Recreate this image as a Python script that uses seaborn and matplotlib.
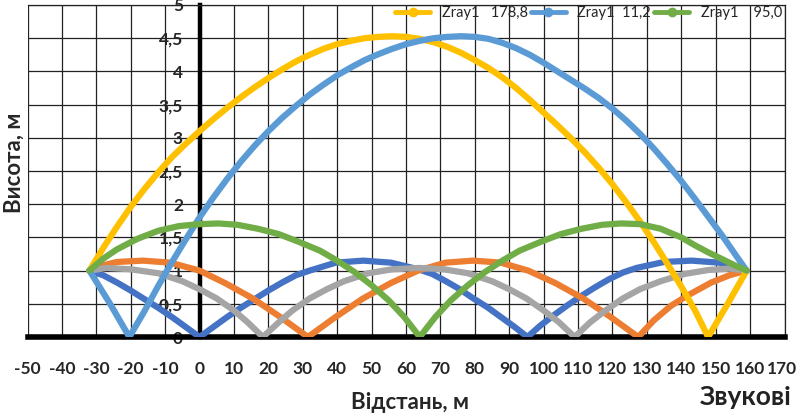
import numpy as np
import pandas as pd
import matplotlib
matplotlib.use("Agg")
import matplotlib.pyplot as plt
import matplotlib.transforms as mtransforms
import seaborn as sns
from matplotlib.lines import Line2D

# ---------------- data ----------------
yellow_x = [-32, -28, -24, -20, -16, -12, -8, -4, 0, 4, 8, 12, 16, 20, 24, 28, 32, 36, 40, 44, 48,
            52, 56, 60, 64, 68, 72, 76, 80, 84, 88, 92, 96, 100, 104, 108, 112, 116, 120, 124,
            128, 132, 136, 140, 144, 147.8, 153.5, 159]
yellow_y = [1.0, 1.34, 1.66, 1.96, 2.23, 2.48, 2.71, 2.91, 3.1, 3.28, 3.45, 3.61, 3.76, 3.9, 4.03, 4.15, 4.25, 4.34, 4.41, 4.46, 4.5,
            4.52, 4.53, 4.52, 4.49, 4.44, 4.37, 4.28, 4.17, 4.05, 3.91, 3.75, 3.57, 3.38, 3.19, 2.99, 2.78, 2.55, 2.3, 2.03,
            1.74, 1.43, 1.1, 0.76, 0.4, 0.0, 0.5, 1.0]

lblue_x = [-32, -26, -20.4, -16, -12, -8, -4, 0, 4, 8, 12, 16, 20, 24, 28, 32, 36, 40, 44, 48, 52, 56,
           60, 64, 68, 72, 76, 80, 84, 88, 92, 96, 100, 104, 108, 112, 116, 120, 124, 128, 132, 136,
           140, 144, 148, 152, 156, 159]
lblue_y = [1.0, 0.5, 0.0, 0.39, 0.77, 1.13, 1.47, 1.8, 2.1, 2.38, 2.64, 2.88, 3.1, 3.3, 3.48, 3.65, 3.8, 3.94, 4.06, 4.17, 4.26, 4.34,
           4.41, 4.46, 4.5, 4.52, 4.53, 4.52, 4.49, 4.43, 4.35, 4.25, 4.13, 4.0, 3.87, 3.74, 3.6, 3.44, 3.26, 3.06, 2.84, 2.6,
           2.35, 2.08, 1.8, 1.52, 1.22, 1.0]

green_x = [-32, -28, -24, -18, -12, -6, 0, 5.5, 11, 17, 23, 29, 35, 40, 45, 50, 55, 59.5, 64,
           68.5, 73, 78, 83, 88, 93, 99, 105, 111, 117, 122.5, 128, 134, 140, 144, 148, 152, 155.5, 159]
green_y = [1.0, 1.18, 1.32, 1.48, 1.6, 1.67, 1.7, 1.71, 1.69, 1.63, 1.55, 1.43, 1.3, 1.15, 0.98, 0.78, 0.55, 0.3, 0.0,
           0.3, 0.55, 0.78, 0.98, 1.15, 1.3, 1.43, 1.55, 1.63, 1.69, 1.71, 1.7, 1.63, 1.5, 1.38, 1.27, 1.17, 1.08, 1.0]

dblue_x = [-32, -28, -24, -20, -16, -12, -8, -4, 0, 4, 8, 12, 16, 20, 24, 28, 32, 39.6, 47.6, 55.6,
           63.6, 67.6, 71.6, 75.6, 79.6, 83.6, 87.6, 91.6, 95.3, 99, 103, 107, 111, 115, 119, 123,
           127, 135, 143, 151, 159]
dblue_y = [1.0, 0.93, 0.82, 0.7, 0.57, 0.44, 0.3, 0.15, 0.0, 0.15, 0.3, 0.44, 0.57, 0.7, 0.82, 0.93, 1.0, 1.12, 1.15, 1.12,
           1.02, 0.95, 0.84, 0.72, 0.58, 0.45, 0.3, 0.15, 0.0, 0.17, 0.33, 0.48, 0.62, 0.75, 0.87, 0.97,
           1.04, 1.13, 1.15, 1.12, 1.0]

orange_x = [-32, -28, -24, -16.5, -8.5, 0, 7.5, 15.5, 23.5, 31.5, 39.5, 47.5, 55.5, 63.5, 71.5, 79.5,
            87.5, 95.5, 103.5, 111.5, 119.5, 127.5, 132, 137, 142, 148.7, 154, 159]
orange_y = [1.0, 1.08, 1.13, 1.15, 1.12, 1.0, 0.81, 0.58, 0.3, 0.0, 0.3, 0.58, 0.81, 1.0, 1.12, 1.15,
            1.12, 1.0, 0.81, 0.58, 0.3, 0.0, 0.25, 0.47, 0.63, 0.82, 0.93, 1.0]

gray_x = [-32, -27, -20, -12, -5, 0, 5, 10, 14, 18.4, 23, 27, 32, 37, 42, 49, 56, 63.7, 71, 78, 85,
          90, 95, 100, 104.5, 109, 113.5, 118, 123, 128, 134, 141, 148, 154, 159]
gray_y = [1.0, 1.04, 1.02, 0.96, 0.84, 0.72, 0.58, 0.4, 0.22, 0.0, 0.22, 0.4, 0.58, 0.72, 0.84, 0.96, 1.02, 1.04, 1.02, 0.96, 0.84,
          0.72, 0.58, 0.4, 0.22, 0.0, 0.22, 0.4, 0.58, 0.72, 0.84, 0.95, 1.01, 1.03, 1.0]

series_names = ["dblue", "orange", "gray", "yellow", "lblue", "green"]
series_colors = {"yellow": "#FFC000", "lblue": "#5B9BD5", "green": "#70AD47",
                 "dblue": "#4472C4", "orange": "#ED7D31", "gray": "#A5A5A5"}
legend_labels = ["Zray1   178,8", "Zray1  11,2", "Zray1    95,0"]
legend_series = ["yellow", "lblue", "green"]

x_ticks = list(range(-50, 171, 10))
y_ticks = [0, 0.5, 1, 1.5, 2, 2.5, 3, 3.5, 4, 4.5, 5]
y_tick_labels = ["0", "0,5", "1", "1,5", "2", "2,5", "3", "3,5", "4", "4,5", "5"]

# ---------------- build table ----------------
data = {"dblue": (dblue_x, dblue_y), "orange": (orange_x, orange_y), "gray": (gray_x, gray_y),
        "yellow": (yellow_x, yellow_y), "lblue": (lblue_x, lblue_y), "green": (green_x, green_y)}
frames = []
for name in series_names:
    xs, ys = data[name]
    frames.append(pd.DataFrame({"x": xs, "y": ys, "series": name}))
df = pd.concat(frames, ignore_index=True)

# ---------------- plot ----------------
sns.set_style("white")
plt.rcParams["font.family"] = ["Lato", "Noto Sans", "DejaVu Sans"]

fig = plt.figure(figsize=(7.98, 4.19), dpi=100)
ax = fig.add_axes([27.5 / 798, 82 / 419, (784.5 - 27.5) / 798, 332 / 419])

for name in series_names:
    sub = df[df["series"] == name]
    sns.lineplot(data=sub, x="x", y="y", color=series_colors[name], lw=4.5,
                 estimator=None, sort=False, ax=ax, legend=False, zorder=3,
                 solid_capstyle="round", solid_joinstyle="round")

ax.set_xlim(-50, 170)
ax.set_ylim(0, 5)
ax.set_xticks(x_ticks)
ax.set_xticklabels([str(t) for t in x_ticks])
ax.set_yticks(y_ticks)
ax.set_yticklabels(y_tick_labels)
ax.grid(True, color="#222222", lw=0.9)
ax.set_axisbelow(True)
ax.set_xlabel("")
ax.set_ylabel("")

for sp in ["top", "right"]:
    ax.spines[sp].set_color("#222222")
    ax.spines[sp].set_linewidth(0.9)
ax.spines["left"].set_position(("data", 0))
ax.spines["left"].set_linewidth(3.2)
ax.spines["left"].set_color("black")
ax.spines["left"].set_zorder(2.5)
ax.spines["bottom"].set_linewidth(4)
ax.spines["bottom"].set_color("black")
ax.axvline(-50, color="#222222", lw=1.4, zorder=1)

ax.tick_params(axis="x", length=0, pad=17, labelsize=12.5)
ax.tick_params(axis="y", length=0, pad=12, labelsize=12.5)
for lab in ax.get_xticklabels() + ax.get_yticklabels():
    lab.set_fontweight("bold")

# keep the last x label ("170") inside the canvas
last = ax.get_xticklabels()[-1]
last.set_transform(last.get_transform() +
                   mtransforms.ScaledTranslation(-3 / 100, 0, fig.dpi_scale_trans))

fig.text(14 / 798, 1 - 163 / 419, "Висота, м", rotation=90, ha="center", va="center",
         fontsize=16, fontweight="bold")
fig.text(410 / 798, 1 - 402 / 419, "Відстань, м", ha="center", va="center",
         fontsize=16, fontweight="bold")
fig.text(791 / 798, 1 - 397 / 419, "Звукові", ha="right", va="center",
         fontsize=19, fontweight="bold", color="#222222")

handles = [Line2D([0], [0], color=series_colors[s], lw=3.5, marker="o", markersize=6)
           for s in legend_series]
fig.legend(handles, legend_labels, loc="center right", bbox_to_anchor=(782 / 798, 1 - 13 / 419),
           ncol=3, frameon=False, fontsize=10.5, handlelength=2.4, handletextpad=0.8,
           columnspacing=0.2, borderaxespad=0, borderpad=0)

fig.savefig("out.png", dpi=100)
